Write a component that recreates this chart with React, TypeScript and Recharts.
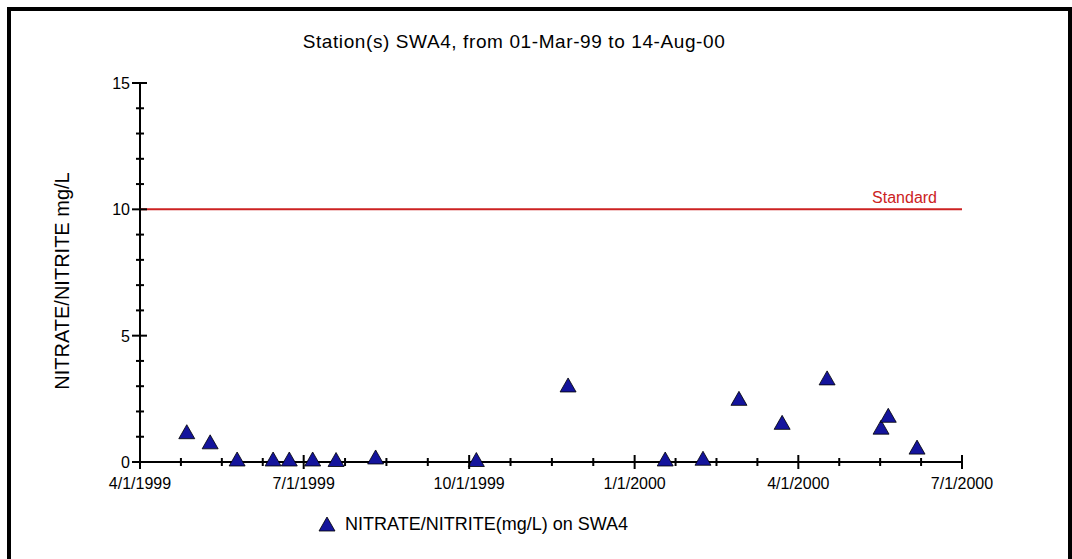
import {
    ScatterChart, Scatter, XAxis, YAxis, ReferenceLine
} from 'recharts';

// sampling dates and NITRATE/NITRITE readings at SWA4 (mg/L)
const sampleDates = [
    '1999-04-27', '1999-05-10', '1999-05-25', '1999-06-14', '1999-06-23',
    '1999-07-06', '1999-07-19', '1999-08-10', '1999-10-05', '1999-11-25',
    '2000-01-18', '2000-02-08', '2000-02-28', '2000-03-23', '2000-04-17',
    '2000-05-17', '2000-05-21', '2000-06-06'
];
const nitrateValues = [
    1.1, 0.7, 0.02, 0.02, 0.02,
    0.02, 0, 0.1, 0, 2.95,
    0.02, 0.05, 2.42, 1.47, 3.23,
    1.28, 1.75, 0.49
];

const majorTickDates = ['1999-04-01', '1999-07-01', '1999-10-01', '2000-01-01', '2000-04-01', '2000-07-01'];
const majorTickLabels = ['4/1/1999', '7/1/1999', '10/1/1999', '1/1/2000', '4/1/2000', '7/1/2000'];
const yTicks = [0, 1, 2, 3, 4, 5, 6, 7, 8, 9, 10, 11, 12, 13, 14, 15];
const yLabelledTicks = [0, 5, 10, 15];
const standardLimit = 10;

const toTime = (d: string) => Date.parse(d + 'T00:00:00Z');

const majorTimes = majorTickDates.map(toTime);

// four divisions between each pair of labelled dates
const xTicks: number[] = [];
majorTimes.forEach((t, i) => {
    const next = majorTimes[i + 1];
    if (next === undefined) {
        xTicks.push(t);
        return;
    }
    for (let k = 0; k < 4; k++) xTicks.push(t + (next - t) * k / 4);
});

const data = sampleDates.map((d, i) => ({ t: toTime(d), v: nitrateValues[i] }));

const font = '"Liberation Sans", Arial, sans-serif';
const markerFill = '#14149c';

const XTick = ({ x, y, payload }: any) => {
    const idx = majorTimes.indexOf(payload.value);
    const len = idx >= 0 ? 7 : 4;
    return (
        <g>
            <line x1={x} x2={x} y1={y - len} y2={y + len} stroke='#000' strokeWidth={2} />
            {idx >= 0 && (
                <text x={x} y={y + 27} textAnchor='middle' fontSize={16} fontFamily={font} fill='#000'>
                    {majorTickLabels[idx]}
                </text>
            )}
        </g>
    );
}

const YTick = ({ x, y, payload }: any) => {
    const major = yLabelledTicks.includes(payload.value);
    return (
        <g>
            <line x1={x - (major ? 8 : 4)} x2={x + (major ? 7 : 4)} y1={y} y2={y} stroke='#000' strokeWidth={2} />
            {major && (
                <text x={x - 10} y={y + 6} textAnchor='end' fontSize={16} fontFamily={font} fill='#000'>
                    {payload.value}
                </text>
            )}
        </g>
    );
}

// triangle centred on its centroid
const Triangle = ({ cx, cy }: any) => (
    <polygon
        points={`${cx},${cy - 9.5} ${cx + 8},${cy + 4.5} ${cx - 8},${cy + 4.5}`}
        fill={markerFill}
        stroke='#000'
        strokeWidth={0.8}
    />
);

const StandardLabel = ({ viewBox }: any) => (
    <text
        x={viewBox.x + viewBox.width - 25}
        y={viewBox.y - 6}
        textAnchor='end'
        fontSize={16}
        fontFamily={font}
        fill='#cc2222'
    >
        Standard
    </text>
);

export default function App() {
    return (
        <div style={{ position: 'relative', margin: '-1px 0 0 -1px', width: 1065, height: 540, fontFamily: font }}>
            <div style={{ position: 'absolute', left: 0, top: 0 }}>
                <ScatterChart
                    width={1065}
                    height={552}
                    margin={{ top: 76, right: 110, bottom: 57, left: 73 }}
                >
                    <XAxis
                        dataKey='t'
                        type='number'
                        domain={[majorTimes[0], majorTimes[majorTimes.length - 1]]}
                        ticks={xTicks}
                        interval={0}
                        height={40}
                        tickSize={0}
                        tickMargin={0}
                        tickLine={false}
                        axisLine={{ stroke: '#000', strokeWidth: 2 }}
                        tick={<XTick />}
                    />
                    <YAxis
                        dataKey='v'
                        type='number'
                        domain={[0, 15]}
                        ticks={yTicks}
                        interval={0}
                        width={60}
                        tickSize={0}
                        tickMargin={0}
                        tickLine={false}
                        axisLine={{ stroke: '#000', strokeWidth: 2 }}
                        tick={<YTick />}
                    />
                    <ReferenceLine
                        y={standardLimit}
                        stroke='#cc2222'
                        strokeWidth={2}
                        label={<StandardLabel />}
                    />
                    <Scatter
                        data={data}
                        shape={<Triangle />}
                        fill={markerFill}
                        isAnimationActive={false}
                    />
                </ScatterChart>
            </div>

            <div style={{ position: 'absolute', left: 257, top: 25, width: 500, textAlign: 'center', fontSize: 19, lineHeight: '19px', letterSpacing: 0.6, color: '#000' }}>
                Station(s) SWA4, from 01-Mar-99 to 14-Aug-00
            </div>

            <div style={{ position: 'absolute', left: 55 - 150, top: 274 - 12, width: 300, textAlign: 'center', fontSize: 20, lineHeight: '24px', transform: 'rotate(-90deg)', color: '#000' }}>
                NITRATE/NITRITE mg/L
            </div>

            <div style={{ position: 'absolute', left: 311, top: 508, display: 'flex', alignItems: 'center', fontSize: 18, lineHeight: '18px', color: '#000' }}>
                <svg width={18} height={16} style={{ marginRight: 9 }}>
                    <polygon points='9,1 17,15 1,15' fill={markerFill} stroke='#000' strokeWidth={0.8} />
                </svg>
                NITRATE/NITRITE(mg/L) on SWA4
            </div>

            {/* frame runs to the right edge of the window and off the bottom */}
            <div style={{ position: 'fixed', left: 7, top: 7, right: 0, bottom: -10, borderTop: '4px solid #000', borderLeft: '4px solid #000', borderRight: '4px solid #000', pointerEvents: 'none' }} />
        </div>
    )
}
